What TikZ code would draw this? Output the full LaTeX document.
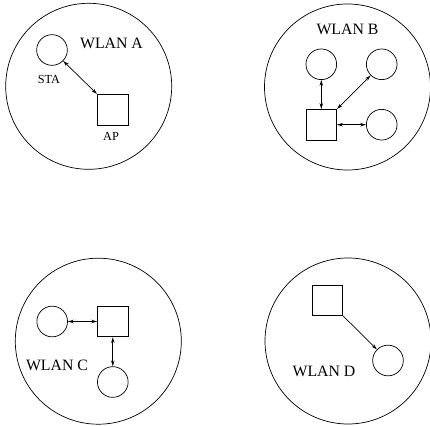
\documentclass[tikz,border=0pt]{standalone}
\usepackage{fontspec}
\setmainfont{Liberation Serif}
\usetikzlibrary{arrows.meta}

\tikzset{
  cell/.style={circle, draw, minimum size=4.98cm, inner sep=0pt},
  stanode/.style={circle, draw, minimum size=0.92cm, inner sep=0pt},
  apnode/.style={rectangle, draw, minimum size=0.92cm, inner sep=0pt},
  link/.style={{Stealth[open,length=5pt,width=3pt]}-{Stealth[open,length=5pt,width=3pt]}},
  uplink/.style={-{Stealth[open,length=5pt,width=3pt]}},
  lbl/.style={inner sep=0pt, font=\fontsize{13.5}{15}\selectfont},
  small/.style={inner sep=0pt, font=\fontsize{10.5}{12}\selectfont}
}

\begin{document}
\begin{tikzpicture}[x=0.03cm, y=-0.03cm, line width=0.6pt]
\useasboundingbox (0,0) rectangle (430,425);

% WLAN A
\node[cell] (wlanA) at (88.7,86.3) {};
\node[lbl] (nameA) at (111.5,43) {WLAN A};
\node[stanode] (staA) at (52,50) {};
\node[apnode] (apA) at (112.7,109.7) {};
\node[small] (staLbl) at (49,79) {STA};
\node[small] (apLbl) at (111,136) {AP};
\draw[link] (staA) -- (apA.north west);

% WLAN B
\node[cell] (wlanB) at (347.5,87) {};
\node[lbl] (nameB) at (347.5,29) {WLAN B};
\node[apnode] (apB) at (321.3,124.7) {};
\node[stanode] (staB1) at (321.3,64.3) {};
\node[stanode] (staB2) at (381.7,64.3) {};
\node[stanode] (staB3) at (381.7,124.7) {};
\draw[link] (apB.north) -- (staB1);
\draw[link] (apB.north east) -- (staB2);
\draw[link] (apB) -- (staB3);

% WLAN C
\node[cell] (wlanC) at (98.3,341.2) {};
\node[lbl] (nameC) at (57,365.7) {WLAN C};
\node[apnode] (apC) at (112.8,321.5) {};
\node[stanode] (staC1) at (52.2,321.5) {};
\node[stanode] (staC2) at (112.8,382) {};
\draw[link] (staC1) -- (apC);
\draw[link] (apC) -- (staC2);

% WLAN D
\node[cell] (wlanD) at (348,341) {};
\node[lbl] (nameD) at (324,371.7) {WLAN D};
\node[apnode] (apD) at (327.5,300.3) {};
\node[stanode] (staD1) at (388,360.5) {};
\draw[uplink] (apD.south east) -- (staD1);
\end{tikzpicture}
\end{document}
